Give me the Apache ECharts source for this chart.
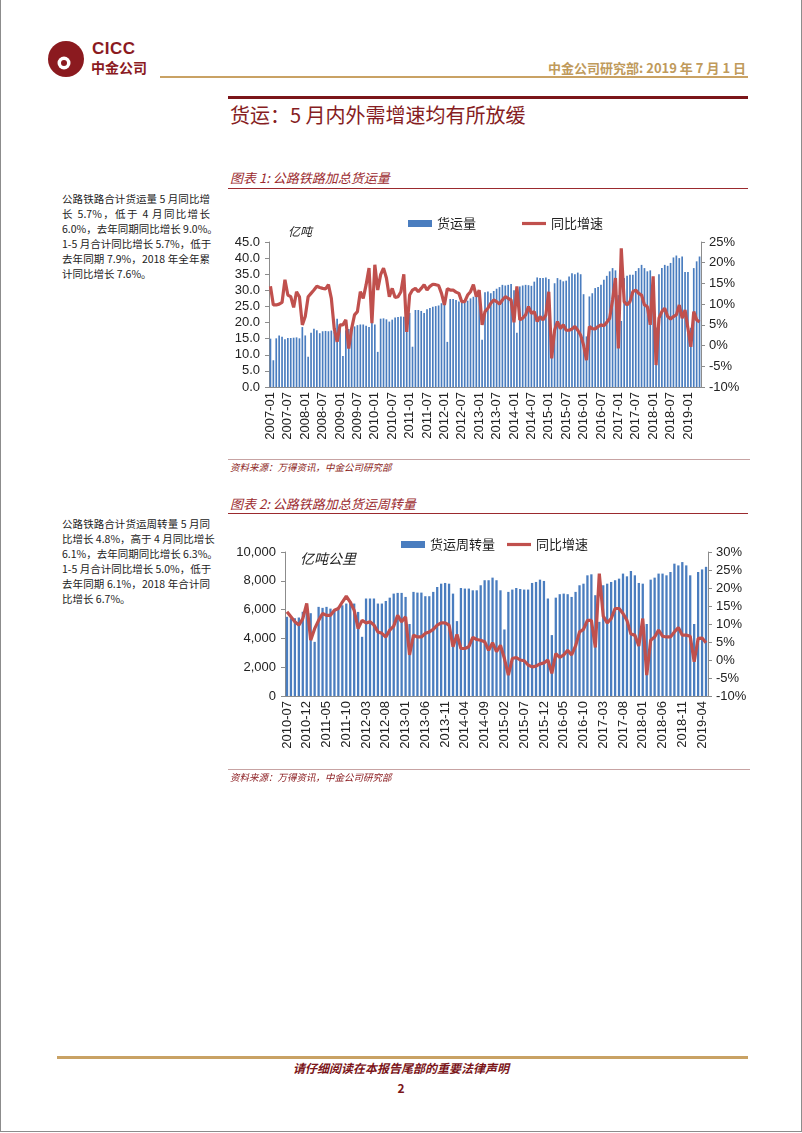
<!DOCTYPE html>
<html>
<head>
<meta charset="utf-8">
<title>货运：5月内外需增速均有所放缓</title>
<script src="https://cdn.jsdelivr.net/npm/echarts@6/dist/echarts.min.js"></script>
<style>
  html, body { margin: 0; padding: 0; }
  body {
    width: 802px; height: 1133px; position: relative; background: #fff; overflow: hidden;
    font-family: "Noto Sans CJK SC", "Liberation Sans", sans-serif;
  }
  .frame { position: absolute; left: 0; top: 0; width: 800px; height: 1131px; border: 1px solid #8c8c8c; border-top: none; }
  .abs { position: absolute; }
  .logo-en { left: 92px; top: 39px; font: bold 17px "Liberation Sans", sans-serif; color: #8b1a1f; letter-spacing: 0.5px; }
  .logo-cn { left: 91px; top: 58px; font-weight: bold; font-size: 14px; color: #8b1a1f; line-height: 18px; }
  .head-right { right: 56px; top: 58px; font-size: 13px; font-weight: bold; color: #c09a5b; }
  .gold-line { left: 160px; top: 76px; width: 588px; height: 2px; background: #c9a264; }
  .red-line { left: 228px; top: 96px; width: 520px; height: 3px; background: #7b1519; }
  .page-title { left: 230px; top: 101px; font-size: 20px; color: #861d22; line-height: 28px; }
  .fig-title { left: 230px; font-size: 13px; font-style: italic; color: #9b2a2e; line-height: 18px; }
  .fig-line { left: 228px; width: 520px; height: 1px; background: #9b2a2e; }
  .src-line { left: 228px; width: 522px; height: 1px; background: #c7a3a3; }
  .src { left: 230px; font-size: 9.5px; font-style: italic; color: #8b1c20; line-height: 12px; }
  .note { left: 62px; width: 148px; font-size: 10.5px; color: #222; line-height: 15px; }
  .note div { text-align: justify; text-align-last: justify; white-space: nowrap; }
  .note div.last { text-align-last: left; }
  .chart { position: absolute; }
  .foot-line { left: 57px; top: 1056px; width: 691px; height: 3px; background: #c9a264; }
  .foot { left: 0; width: 802px; text-align: center; font-weight: bold; font-style: italic; color: #7b1519; }
</style>
</head>
<body>
<div class="frame"></div>

<!-- 页眉 -->
<svg class="abs" style="left:47px;top:40px" width="38" height="38" viewBox="0 0 38 38">
  <circle cx="19" cy="19" r="18" fill="#8b1a1f"/>
  <path d="M19,1 A18,18 0 0 1 19,37 A10,10 0 0 0 19,1 Z" fill="#c9a264"/>
  <circle cx="17" cy="23" r="6.5" fill="#fff"/>
  <circle cx="17" cy="23" r="3" fill="#8b1a1f"/>
</svg>
<div class="abs logo-en">CICC</div>
<div class="abs logo-cn">中金公司</div>
<div class="abs head-right">中金公司研究部: 2019 年 7 月 1 日</div>
<div class="abs gold-line"></div>
<div class="abs red-line"></div>
<div class="abs page-title">货运：5 月内外需增速均有所放缓</div>

<!-- 图表 1 -->
<div class="abs fig-title" style="top:169px">图表 1: 公路铁路加总货运量</div>
<div class="abs fig-line" style="top:188px"></div>
<div class="abs note" style="top:191px">
  <div>公路铁路合计货运量 5 月同比增</div>
  <div>长 5.7%，低于 4 月同比增长</div>
  <div>6.0%，去年同期同比增长 9.0%。</div>
  <div>1-5 月合计同比增长 5.7%，低于</div>
  <div>去年同期 7.9%，2018 年全年累</div>
  <div class="last">计同比增长 7.6%。</div>
</div>
<div class="chart" id="chart1" style="left:200px;top:195px;width:560px;height:265px"></div>
<div class="abs src-line" style="top:459px"></div>
<div class="abs src" style="top:461px">资料来源：万得资讯，中金公司研究部</div>

<!-- 图表 2 -->
<div class="abs fig-title" style="top:495px">图表 2: 公路铁路加总货运周转量</div>
<div class="abs fig-line" style="top:513px"></div>
<div class="abs note" style="top:516px">
  <div>公路铁路合计货运周转量 5 月同</div>
  <div>比增长 4.8%，高于 4 月同比增长</div>
  <div>6.1%，去年同期同比增长 6.3%。</div>
  <div>1-5 月合计同比增长 5.0%，低于</div>
  <div>去年同期 6.1%，2018 年合计同</div>
  <div class="last">比增长 6.7%。</div>
</div>
<div class="chart" id="chart2" style="left:200px;top:530px;width:560px;height:240px"></div>
<div class="abs src-line" style="top:769px"></div>
<div class="abs src" style="top:771px">资料来源：万得资讯，中金公司研究部</div>

<!-- 页脚 -->
<div class="abs foot-line"></div>
<div class="abs foot" style="top:1059px;font-size:12px">请仔细阅读在本报告尾部的重要法律声明</div>
<div class="abs foot" style="top:1079px;font-size:12px;font-style:normal">2</div>

<script>
// 月份标签
function monthLabels(year, month, n) {
  let out = [];
  for (let k = 0; k < n; k++) {
    let m = (month - 1 + k) % 12 + 1;
    let y = year + Math.floor((month - 1 + k) / 12);
    out.push(y + "-" + String(m).padStart(2, "0"));
  }
  return out;
}

// 图表1：货运量（亿吨），2007-01 ~ 2019-05
const months1 = monthLabels(2007, 1, 149);
const freightVolume = [
  15.0, 8.3, 15.1, 16.0, 15.6, 14.8, 15.2, 15.2, 15.3, 15.4, 15.1, 18.6,
  16.0, 9.4, 16.8, 18.1, 17.6, 16.7, 17.3, 17.4, 17.3, 17.5, 17.1, 21.2,
  19.0, 9.6, 17.6, 18.0, 18.5, 18.8, 19.2, 19.4, 19.4, 19.0, 18.6, 20.0,
  19.4, 10.9, 21.2, 21.3, 21.0, 20.3, 20.9, 21.6, 21.7, 21.9, 21.8, 22.4,
  23.0, 12.5, 23.9, 23.9, 23.6, 23.0, 24.1, 24.5, 24.9, 25.1, 25.3, 26.0,
  25.5, 14.0, 27.3, 27.3, 27.0, 26.5, 26.2, 26.3, 26.8, 27.5, 28.0, 29.3,
  28.5, 14.7, 29.4, 29.6, 29.1, 29.8, 30.5, 31.0, 31.7, 31.5, 31.7, 32.0,
  30.0, 16.8, 31.2, 31.5, 31.7, 31.6, 31.4, 32.7, 34.0, 33.8, 33.8, 34.0,
  33.5, 16.3, 32.2, 33.8, 33.3, 32.8, 33.0, 34.3, 35.3, 35.0, 35.5, 35.0,
  28.8, 15.7, 28.1, 29.1, 30.7, 31.0, 31.7, 33.3, 34.5, 35.9, 36.9, 36.2,
  28.5, 20.5, 33.8, 34.5, 34.8, 34.8, 36.0, 36.9, 37.9, 36.9, 35.9, 36.2,
  33.8, 18.5, 35.0, 36.9, 37.9, 37.6, 38.5, 40.2, 40.8, 40.0, 40.5, 35.7,
  35.7, 18.4, 36.9, 39.0, 40.5
];
// 同比增速（%）
const freightYoY = [
  14.3, 9.8, 9.8, 10.0, 10.4, 15.9, 12.2, 11.8, 9.2, 13.0, 11.8, 5.0,
  7.0, 11.8, 12.6, 13.4, 14.3, 14.0, 13.8, 13.7, 14.7, 11.4, 4.1, 0.9,
  5.0, 5.0, 6.2, -0.7, 4.1, 7.4, 8.2, 13.0, 11.4, 14.7, 18.7, 5.4,
  19.5, 13.4, 17.1, 18.7, 16.3, 11.8, 13.8, 11.6, 11.8, 13.0, 17.2, 3.3,
  12.2, 13.4, 13.8, 13.0, 13.8, 14.7, 13.4, 14.3, 14.8, 14.7, 14.5, 12.6,
  9.8, 13.7, 13.4, 13.4, 12.9, 12.6, 10.6, 10.6, 12.2, 13.0, 14.7, 11.8,
  13.4, 5.0, 8.2, 9.0, 10.2, 11.0, 10.6, 10.0, 11.0, 11.8, 11.4, 11.0,
  5.6, 14.3, 6.2, 6.6, 7.4, 9.4, 7.8, 8.2, 5.8, 7.0, 6.2, 7.4,
  13.0, -3.1, 3.7, 5.8, 4.1, 5.0, 3.7, 3.7, 4.0, 4.6, 3.7, 2.5,
  0.1, -3.5, 4.6, 4.1, 4.0, 4.6, 5.0, 4.8, 5.6, 6.6, 11.0, 16.3,
  -0.7, 23.5, 10.6, 9.8, 10.6, 13.0, 13.4, 12.6, 12.2, 9.8, 9.4, 5.0,
  16.7, -4.7, 6.6, 8.2, 9.0, 7.0, 6.4, 7.0, 7.4, 9.8, 6.6, 8.6,
  4.1, -0.3, 8.2, 6.2, 5.7
];

// 图表2：货运周转量（亿吨公里），2010-07 ~ 2019-05
const months2 = monthLabels(2010, 7, 107);
const turnover = [
  5500, 5400, 5400, 5450, 5850, 5800,
  5750, 3760, 6190, 6120, 6190, 6070, 5960, 6190, 6300, 6420, 6530, 6420,
  5840, 4110, 6770, 6770, 6770, 6420, 6420, 6600, 6830, 7110, 7160, 7160,
  6880, 5000, 7230, 7180, 7180, 6930, 6930, 7230, 7570, 7800, 7850, 7800,
  7110, 5200, 7500, 7460, 7460, 7340, 7340, 7690, 8040, 8040, 8220, 8040,
  7340, 4620, 7230, 7390, 7500, 7430, 7390, 7390, 7850, 7920, 8080, 7990,
  6770, 4230, 6830, 7070, 7110, 7070, 6880, 7230, 7690, 7800, 8380, 8450,
  7000, 5150, 7690, 7800, 7920, 8040, 8150, 8500, 8310, 8680, 8380, 7850,
  7800, 5000, 8080, 8220, 8500, 8500, 8380, 8610, 9190, 9070, 9300, 9070,
  8380, 5000, 8610, 8790, 8970
];
const turnoverYoY = [
  13.4, 12.0, 10.6, 9.7, 11.5, 15.7, 5.5, 8.7, 11.0, 12.9, 12.4, 12.4,
  13.8, 14.3, 16.1, 17.7, 16.1, 13.8, 8.7, 11.0, 10.3, 10.6, 9.7, 7.8,
  7.4, 6.4, 8.3, 9.4, 12.4, 10.6, 12.0, 1.4, 6.9, 6.4, 6.4, 7.4,
  7.8, 8.5, 9.7, 10.3, 10.3, 9.7, 3.7, 7.1, 3.2, 3.2, 3.7, 6.3,
  5.7, 5.5, 5.1, 2.7, 4.8, 2.3, 4.1, 0.4, -4.2, 0.4, 0.7, 0.0,
  -0.2, -1.4, -1.9, -1.7, -1.1, -0.8, 0.0, -3.7, 1.8, 0.7, 1.4, 2.7,
  1.4, 3.9, 7.8, 8.5, 11.0, 11.0, 3.5, 24.0, 12.2, 10.3, 11.5, 14.3,
  14.3, 12.9, 11.0, 7.2, 6.9, 3.9, 11.5, -4.2, 5.5, 6.4, 8.3, 6.6,
  6.4, 6.4, 7.8, 9.0, 6.9, 6.9, 6.6, -0.5, 6.0, 6.1, 4.8
];

const BAR = "#4a7dbf";
const LINE = "#c0504d";
const AXIS = "#8c8c8c";
const NUM_FONT = '"Liberation Sans", Arial, sans-serif';
const CN_FONT = '"Noto Sans CJK SC", sans-serif';

function makeOption(cfg) {
  return {
    animation: false,
    grid: cfg.grid,
    legend: {
      left: cfg.legendLeft,
      top: cfg.legendTop,
      padding: 0,
      itemGap: cfg.legendGap,
      itemWidth: 24,
      itemHeight: 7,
      textStyle: { fontFamily: CN_FONT, fontSize: 13, color: "#222" },
      data: [
        { name: cfg.barName, icon: "rect" },
        { name: "同比增速", icon: "path://M0,0 L24,0 L24,3.2 L0,3.2 Z" },
      ],
    },
    graphic: [
      {
        type: "text",
        left: cfg.unitPos[0],
        top: cfg.unitPos[1],
        style: { text: cfg.unit, font: "italic " + cfg.unitSize + "px " + CN_FONT, fill: "#222" },
      },
    ],
    xAxis: {
      type: "category",
      data: cfg.months,
      axisLine: { lineStyle: { color: AXIS } },
      axisTick: { interval: cfg.step - 1, alignWithLabel: true, length: 4, lineStyle: { color: AXIS } },
      axisLabel: {
        interval: cfg.step - 1,
        rotate: 90,
        margin: 5,
        fontSize: 13,
        fontFamily: NUM_FONT,
        color: "#222",
      },
    },
    yAxis: [
      {
        type: "value",
        min: 0,
        max: cfg.leftMax,
        interval: cfg.leftStep,
        splitLine: { show: false },
        axisLine: { show: true, lineStyle: { color: AXIS } },
        axisTick: { show: true, length: 4, lineStyle: { color: AXIS } },
        axisLabel: { formatter: cfg.leftFmt, margin: 9, fontSize: 13, fontFamily: NUM_FONT, color: "#222" },
      },
      {
        type: "value",
        min: -10,
        max: cfg.rightMax,
        interval: 5,
        splitLine: { show: false },
        axisLine: { show: true, lineStyle: { color: AXIS } },
        axisTick: { show: true, length: 4, lineStyle: { color: AXIS } },
        axisLabel: { formatter: "{value}%", margin: 8, fontSize: 13, fontFamily: NUM_FONT, color: "#222" },
      },
    ],
    series: [
      {
        name: cfg.barName,
        type: "bar",
        data: cfg.bars,
        barWidth: "58%",
        itemStyle: { color: BAR },
      },
      {
        name: "同比增速",
        type: "line",
        yAxisIndex: 1,
        data: cfg.yoy,
        showSymbol: false,
        lineStyle: { color: LINE, width: 3.2 },
        itemStyle: { color: LINE },
        z: 5,
      },
    ],
  };
}

let chart1 = echarts.init(document.getElementById("chart1"));
chart1.setOption(
  makeOption({
    grid: { left: 69, right: 59, top: 47, bottom: 73 },
    legendLeft: 208,
    legendTop: 22,
    legendGap: 46,
    barName: "货运量",
    unit: "亿吨",
    unitSize: 12,
    unitPos: [88, 30],
    months: months1,
    step: 6,
    leftMax: 45,
    leftStep: 5,
    leftFmt: (v) => v.toFixed(1),
    rightMax: 25,
    bars: freightVolume,
    yoy: freightYoY,
  })
);

let chart2 = echarts.init(document.getElementById("chart2"));
chart2.setOption(
  makeOption({
    grid: { left: 85, right: 52, top: 22, bottom: 74 },
    legendLeft: 201,
    legendTop: 8,
    legendGap: 12,
    barName: "货运周转量",
    unit: "亿吨公里",
    unitSize: 14,
    unitPos: [100, 22],
    months: months2,
    step: 5,
    leftMax: 10000,
    leftStep: 2000,
    leftFmt: (v) => v.toLocaleString("en-US"),
    rightMax: 30,
    bars: turnover,
    yoy: turnoverYoY,
  })
);
</script>
</body>
</html>
